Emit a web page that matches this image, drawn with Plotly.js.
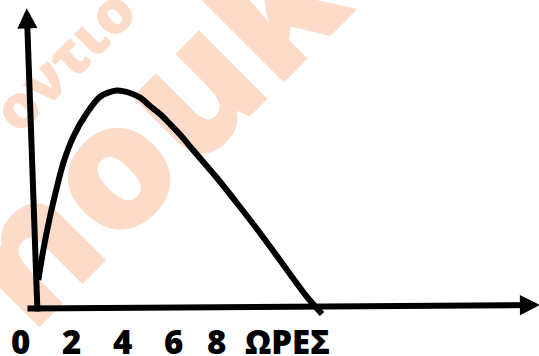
<!DOCTYPE html>
<html>
<head>
<meta charset="utf-8">
<script src="https://cdn.plot.ly/plotly-3.0.1.min.js"></script>
<style>html,body{margin:0;padding:0;background:#fff;}#chart{width:539px;height:356px;}</style>
</head>
<body>
<div id="chart"></div>
<script>
// curve (hours vs level)
const hours = [0.718, 0.914, 1.176, 1.439, 1.698, 2.09, 2.616, 3.137, 3.792, 4.314, 4.706, 5.098, 5.49, 5.882, 6.275, 6.784, 7.725, 8.627, 9.529, 10.471, 11.255, 11.843];
const level = [2.8, 5.8, 9.13, 12.0, 14.5, 17.13, 19.47, 21.13, 21.75, 21.5, 21.05, 20.2, 19.4, 18.4, 17.35, 15.8, 13.0, 10.1, 7.1, 3.8, 1.1, -0.6];

// tick labels under the horizontal axis
const tickLabels = ['0', '2', '4', '6', '8', 'ΩΡΕΣ'];
const tickHours = [0, 2, 4, 6, 7.706, 10.49];

// hand-drawn axes: [tailX, tailY, tipX, tipY]
const yAxisArrow = [0.686, -0.5, 0.263, 29.97];
const xAxisArrow = [0.235, -0.05, 20.39, 0.3];

// watermark
const watermarkTexts = ['nouko', 'οντιο'];

const W = 539, H = 356;

const trace = {
  x: hours, y: level, type: 'scatter', mode: 'lines',
  line: {color: '#000', width: 6, shape: 'spline', smoothing: 0.8},
  cliponaxis: false, hoverinfo: 'skip'
};

const wmColor = 'rgb(252,220,200)';
function wmShape(cx, cy, text, size) {
  const x = cx / W, y = 1 - cy / H;
  return {
    type: 'rect', xref: 'paper', yref: 'paper', layer: 'below',
    x0: x - 0.001, x1: x + 0.001, y0: y - 0.001, y1: y + 0.001,
    line: {width: 0}, fillcolor: 'rgba(0,0,0,0)',
    label: {text: text, textangle: -45, textposition: 'middle center',
            font: {family: 'Open Sans', size: size, weight: 800, color: wmColor}}
  };
}
const shapes = [
  wmShape(194, 93, watermarkTexts[0], 175),
  wmShape(66, 62, watermarkTexts[1], 60)
];

const annotations = [];
[yAxisArrow, xAxisArrow].forEach(a => {
  annotations.push({
    xref: 'x', yref: 'y', axref: 'x', ayref: 'y',
    ax: a[0], ay: a[1], x: a[2], y: a[3], text: '',
    showarrow: true, arrowhead: 2, arrowsize: 0.67, arrowwidth: 6,
    arrowcolor: '#000', standoff: 0
  });
});
tickLabels.forEach((t, i) => {
  annotations.push({
    xref: 'x', yref: 'y', x: tickHours[i], y: -3.35, text: t, showarrow: false,
    xanchor: 'center', yanchor: 'middle',
    font: {family: 'Open Sans', size: 33, weight: 800, color: '#000'}
  });
});

const layout = {
  width: W, height: H,
  margin: {l: 0, r: 0, t: 0, b: 0, pad: 0},
  paper_bgcolor: '#fff', plot_bgcolor: 'rgba(0,0,0,0)',
  showlegend: false,
  xaxis: {range: [-0.784, 20.35], visible: false, fixedrange: true},
  yaxis: {range: [-4.8, 30.8], visible: false, fixedrange: true},
  shapes: shapes,
  annotations: annotations
};

Plotly.newPlot('chart', [trace], layout, {displayModeBar: false, staticPlot: true});
</script>
</body>
</html>
